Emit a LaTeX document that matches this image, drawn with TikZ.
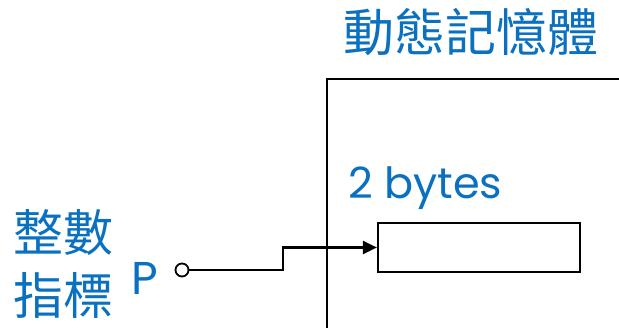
\documentclass[tikz,border=0pt]{standalone}
\usepackage{fontspec}
\setmainfont{Poppins}
\newfontfamily\cjk{Noto Sans CJK TC}
\usetikzlibrary{arrows.meta}
\definecolor{tblue}{HTML}{0A70C0}
\begin{document}
\begin{tikzpicture}[x=1pt,y=-1pt,
  lbl/.style={text=tblue,inner sep=0pt},
  wire/.style={line width=2.2pt,black}]
\useasboundingbox (0,0) rectangle (619,328);
% memory region
\coordinate (mbl) at (327,330);
\coordinate (mtl) at (327,79);
\coordinate (mtr) at (621,79);
\draw[wire] (mbl) -- (mtl) -- (mtr);
\node[lbl,anchor=center] (title) at (471,32) {\cjk\fontsize{51}{51}\selectfont 動態記憶體};
\node[lbl,anchor=west] (bytes) at (348,188) {\fontsize{43}{43}\selectfont 2 bytes};
\node[draw,line width=2.2pt,minimum width=202pt,minimum height=49pt,inner sep=0pt] (cell) at (479,247.5) {};
\node[lbl,anchor=center] (int) at (63,233) {\cjk\fontsize{50}{50}\selectfont 整數};
\node[lbl,anchor=center] (ptr) at (63,295) {\cjk\fontsize{50}{50}\selectfont 指標};
\node[lbl,anchor=center] (p) at (145,278) {\fontsize{46}{46}\selectfont P};
\node[draw,circle,line width=1.8pt,minimum size=13pt,inner sep=0pt,fill=white] (dot) at (182,270) {};
\draw[wire,-{Triangle[length=14pt,width=13pt]}] (dot.east) -- (283,270) -- (283,247.5) -- (cell.west);
\end{tikzpicture}
\end{document}
